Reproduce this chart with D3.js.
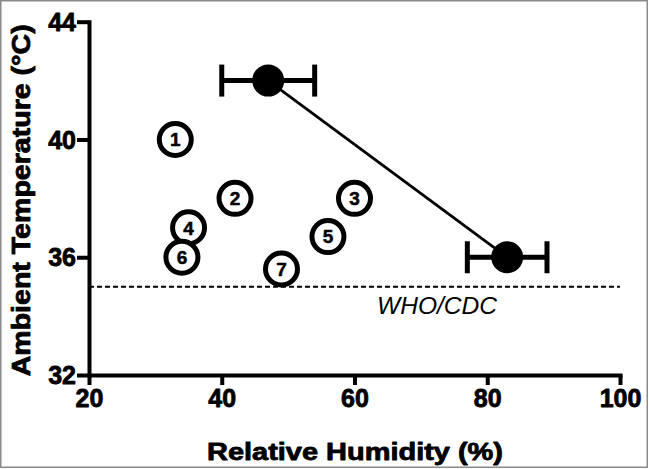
<!DOCTYPE html>
<html>
<head>
<meta charset="utf-8">
<script src="https://cdn.jsdelivr.net/npm/d3@7"></script>
<style>
  html, body { margin: 0; padding: 0; background: #fff; }
  svg { display: block; }
</style>
</head>
<body>
<script>
// ---- data ----
const siteLabels = ["1", "2", "3", "4", "5", "6", "7"];
const siteHumidity = [33, 42, 60, 35, 56, 34, 49];
const siteTemperature = [40, 38, 38, 37, 36.7, 36, 35.6];

const meanHumidity = [47, 83];
const meanTemperature = [42, 36];
const humidityError = [7, 6];

const guidelineTemperature = 35;
const guidelineLabel = "WHO/CDC";

const xTicks = [20, 40, 60, 80, 100];
const yTicks = [32, 36, 40, 44];
const xTitle = "Relative Humidity (%)";
const yTitle = "Ambient Temperature (°C)";

// ---- layout ----
const W = 649, H = 469;
const svg = d3.select("body").append("svg").attr("width", W).attr("height", H);
const FONT = "'Liberation Sans', Arial, Helvetica, sans-serif";

svg.append("rect").attr("x", 0.75).attr("y", 0.75).attr("width", W - 2.5).attr("height", H - 2.5)
  .attr("fill", "#fff").attr("stroke", "#8a8a8a").attr("stroke-width", 1.5);

const x = d3.scaleLinear().domain([20, 100]).range([89, 620]);
const y = d3.scaleLinear().domain([32, 44]).range([375, 21.7]);

function heavy(sel, w) {
  sel.attr("stroke", "#000").attr("stroke-width", w).attr("paint-order", "stroke")
     .attr("stroke-linejoin", "round").attr("fill", "#000");
}

// dashed guideline
svg.append("line")
  .attr("x1", x(20)).attr("x2", x(100))
  .attr("y1", y(guidelineTemperature)).attr("y2", y(guidelineTemperature))
  .attr("stroke", "#000").attr("stroke-width", 2).attr("stroke-dasharray", "5,3");
svg.append("text")
  .attr("x", 377).attr("y", y(guidelineTemperature) + 27)
  .attr("font-family", FONT).attr("font-style", "italic").attr("font-size", 24)
  .attr("textLength", 120).attr("lengthAdjust", "spacingAndGlyphs")
  .text(guidelineLabel);

// axes
const xAxis = svg.append("g").attr("transform", `translate(0,${y(32)})`)
  .call(d3.axisBottom(x).tickValues(xTicks).tickSize(10).tickSizeOuter(0).tickPadding(4));
const yAxis = svg.append("g").attr("transform", `translate(${x(20)},0)`)
  .call(d3.axisLeft(y).tickValues(yTicks).tickSize(12).tickSizeOuter(0).tickPadding(1));
[xAxis, yAxis].forEach(g => {
  g.select(".domain").attr("stroke", "#000").attr("stroke-width", 4).attr("stroke-linecap", "square");
  g.selectAll(".tick line").attr("stroke", "#000").attr("stroke-width", 4);
  const t = g.selectAll(".tick text").attr("font-family", FONT).attr("font-weight", "bold")
    .attr("font-size", 25);
  heavy(t, 0.8);
});
xAxis.selectAll(".tick text").attr("dy", "0.72em");
yAxis.selectAll(".tick text").attr("dy", "0.35em");

// axis titles
heavy(svg.append("text")
  .attr("x", 355).attr("y", 460).attr("text-anchor", "middle")
  .attr("font-family", FONT).attr("font-weight", "bold").attr("font-size", 24)
  .attr("textLength", 296).attr("lengthAdjust", "spacingAndGlyphs")
  .text(xTitle), 0.8);
heavy(svg.append("text")
  .attr("transform", `translate(30,${(y(32) + y(44)) / 2 + 2}) rotate(-90)`)
  .attr("text-anchor", "middle")
  .attr("font-family", FONT).attr("font-weight", "bold").attr("font-size", 25)
  .attr("textLength", 352).attr("lengthAdjust", "spacingAndGlyphs")
  .text(yTitle), 0.8);

// mean line
const means = meanHumidity.map((h, i) => ({ h, t: meanTemperature[i], e: humidityError[i] }));
svg.append("path")
  .datum(means)
  .attr("d", d3.line().x(d => x(d.h)).y(d => y(d.t)))
  .attr("fill", "none").attr("stroke", "#000").attr("stroke-width", 2.8);

// error bars
const eb = svg.append("g").selectAll("g").data(means).join("g");
eb.append("line")
  .attr("x1", d => x(d.h - d.e)).attr("x2", d => x(d.h + d.e))
  .attr("y1", d => y(d.t)).attr("y2", d => y(d.t))
  .attr("stroke", "#000").attr("stroke-width", 5);
eb.selectAll("line.cap").data(d => [[d.h - d.e, d.t], [d.h + d.e, d.t]]).join("line")
  .attr("class", "cap")
  .attr("x1", d => x(d[0])).attr("x2", d => x(d[0]))
  .attr("y1", d => y(d[1]) - 16).attr("y2", d => y(d[1]) + 16)
  .attr("stroke", "#000").attr("stroke-width", 5);
eb.append("circle")
  .attr("cx", d => x(d.h)).attr("cy", d => y(d.t)).attr("r", 16).attr("fill", "#000");

// numbered sites
const sites = siteLabels.map((l, i) => ({ l, h: siteHumidity[i], t: siteTemperature[i] }));
const sg = svg.append("g").selectAll("g").data(sites).join("g")
  .attr("transform", d => `translate(${x(d.h)},${y(d.t)})`);
sg.append("circle").attr("r", 16).attr("fill", "#fff").attr("stroke", "#000").attr("stroke-width", 5);
heavy(sg.append("text").attr("text-anchor", "middle").attr("dy", "0.36em")
  .attr("font-family", FONT).attr("font-weight", "bold").attr("font-size", 19)
  .text(d => d.l), 0.5);
</script>
</body>
</html>
